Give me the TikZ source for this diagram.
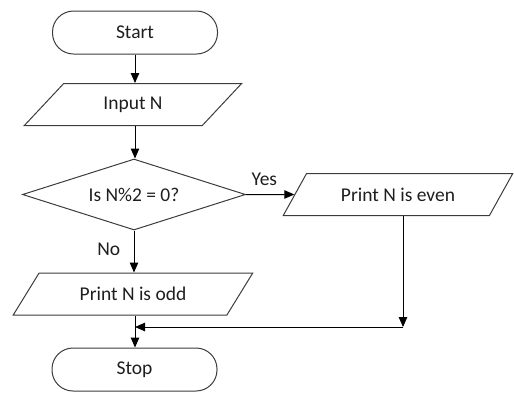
\documentclass[tikz,border=0pt]{standalone}
\usepackage{fontspec}
\setmainfont{Carlito}
\usetikzlibrary{shapes.geometric,arrows.meta}
\definecolor{edgegray}{HTML}{3C3C3C}
\definecolor{inkgray}{HTML}{1E1E1E}
\begin{document}
\begin{tikzpicture}[x=1pt,y=-1pt,
  font=\fontsize{19.5}{21}\selectfont, text=inkgray,
  terminal/.style={draw=edgegray, line width=1pt, rectangle,
    rounded corners=21pt, minimum width=165pt, minimum height=43pt, inner sep=0pt},
  iobox/.style={draw=edgegray, line width=1pt, trapezium,
    trapezium left angle=43, trapezium right angle=137, trapezium stretches=true,
    minimum height=42pt, inner sep=0pt},
  decision/.style={draw=edgegray, line width=1pt, diamond, aspect=3.1,
    minimum width=223pt, minimum height=71pt, inner sep=0pt},
  flow/.style={draw=black, line width=1pt, -{Triangle[length=10pt,width=8.5pt]}},
  plain/.style={draw=black, line width=1pt}]
  \useasboundingbox (0,0) rectangle (514,392);

  % main column
  \node[terminal] (start) at (135,32.5) {Start};
  \node[iobox, minimum width=219pt] (input) at (133,104.5) {Input N};
  \node[decision] (dec) at (134,194.5) {Is N\%2 = 0?};
  \node[iobox, minimum width=240pt] (odd) at (133,294) {Print N is odd};
  \node[terminal] (stop) at (134.5,369.5) {Stop};

  % right branch
  \node[iobox, minimum width=230pt] (even) at (398,194.5) {Print N is even};

  % helper points for the return path
  \coordinate (corner) at (403,327);
  \coordinate (join) at (135,327);

  \draw[flow] (start.south) -- (start.south |- input.north);
  \draw[flow] (input.south -| start.south) -- (start.south |- dec.north);
  \draw[flow] (dec.east) -- node[above=5pt, pos=0.38] (yes) {Yes} (even);
  \draw[flow] (dec.south) -- node[left=10pt, pos=0.45] (no) {No} (dec.south |- odd.north);
  \draw[plain] (odd.south -| join) -- (join);
  \draw[flow] (join) -- (join |- stop.north);
  \draw[flow] (even.south -| corner) -- (corner);
  \draw[flow] (corner) -- (join);
\end{tikzpicture}
\end{document}
